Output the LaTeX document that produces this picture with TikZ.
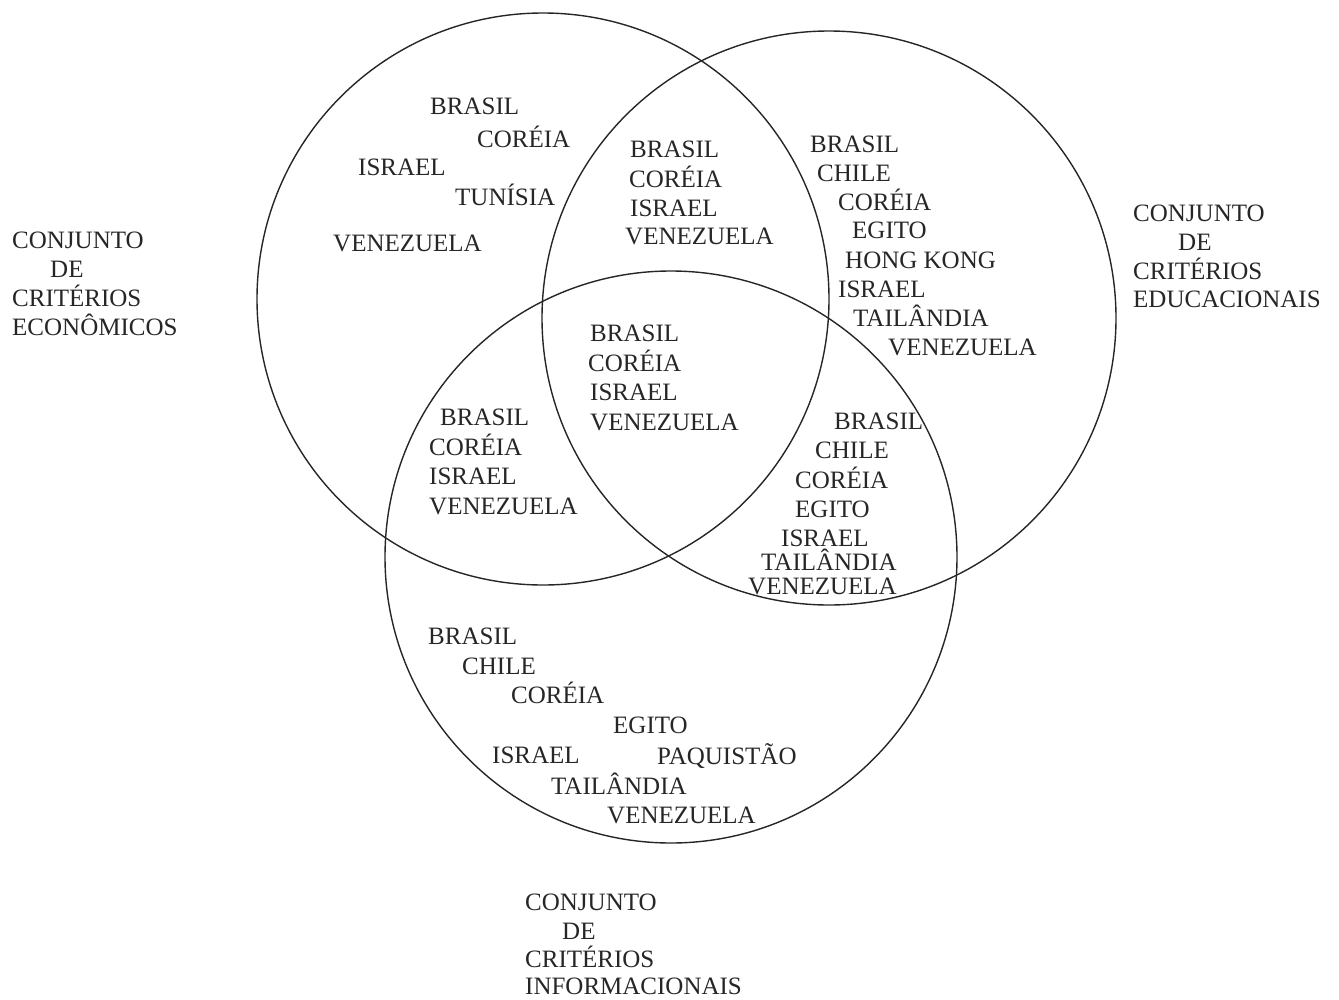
\documentclass[tikz,border=0pt]{standalone}
\usepackage{fontspec}
\setmainfont{Liberation Serif}
\tikzset{
  setcircle/.style={circle, draw=black!85, line width=1.4pt, inner sep=0pt},
  lbl/.style={anchor=base west, inner sep=0pt, text=black!85, font=\fontsize{25}{29}\selectfont},
}
\begin{document}
\begin{tikzpicture}[x=1pt,y=-1pt]
\useasboundingbox (0,0) rectangle (1339,999);
% circles
\node[setcircle, minimum size=572pt] (econ) at (543,299) {};
\node[setcircle, minimum size=574pt] (educ) at (829,318) {};
\node[setcircle, minimum size=572pt] (info) at (671,557) {};
% economic only
\node[lbl] (a1) at (430,114) {BRASIL};
\node[lbl] (a2) at (477,147) {COR\'EIA};
\node[lbl] (a3) at (358,175) {ISRAEL};
\node[lbl] (a4) at (455,205) {TUN\'ISIA};
\node[lbl] (a5) at (333,251) {VENEZUELA};
% economic & educational
\node[lbl] (b1) at (630,157) {BRASIL};
\node[lbl] (b2) at (629,187) {COR\'EIA};
\node[lbl] (b3) at (630,216) {ISRAEL};
\node[lbl] (b4) at (625,244) {VENEZUELA};
% educational only
\node[lbl] (c1) at (810,152) {BRASIL};
\node[lbl] (c2) at (817,181) {CHILE};
\node[lbl] (c3) at (838,210) {COR\'EIA};
\node[lbl] (c4) at (852,238) {EGITO};
\node[lbl] (c5) at (845,268) {HONG KONG};
\node[lbl] (c6) at (838,297) {ISRAEL};
\node[lbl] (c7) at (853,326) {TAIL\^ANDIA};
\node[lbl] (c8) at (888,355) {VENEZUELA};
% all three
\node[lbl] (d1) at (590,341) {BRASIL};
\node[lbl] (d2) at (588,371) {COR\'EIA};
\node[lbl] (d3) at (590,400) {ISRAEL};
\node[lbl] (d4) at (590,430) {VENEZUELA};
% economic & informational
\node[lbl] (e1) at (440,425) {BRASIL};
\node[lbl] (e2) at (429,455) {COR\'EIA};
\node[lbl] (e3) at (429,484) {ISRAEL};
\node[lbl] (e4) at (429,514) {VENEZUELA};
% educational & informational
\node[lbl] (f1) at (834,429) {BRASIL};
\node[lbl] (f2) at (815,458) {CHILE};
\node[lbl] (f3) at (795,488) {COR\'EIA};
\node[lbl] (f4) at (795,517) {EGITO};
\node[lbl] (f5) at (781,546) {ISRAEL};
\node[lbl] (f6) at (761,570) {TAIL\^ANDIA};
\node[lbl] (f7) at (748,594) {VENEZUELA};
% informational only
\node[lbl] (g1) at (428,644) {BRASIL};
\node[lbl] (g2) at (462,674) {CHILE};
\node[lbl] (g3) at (511,703) {COR\'EIA};
\node[lbl] (g4) at (613,733) {EGITO};
\node[lbl] (g5) at (492,763) {ISRAEL};
\node[lbl] (g6) at (657,764) {PAQUIST\~AO};
\node[lbl] (g7) at (551,794) {TAIL\^ANDIA};
\node[lbl] (g8) at (607,823) {VENEZUELA};
% set labels
\node[lbl] (l1) at (12,248) {CONJUNTO};
\node[lbl] (l2) at (50,277) {DE};
\node[lbl] (l3) at (12,306) {CRIT\'ERIOS};
\node[lbl] (l4) at (12,335) {ECON\^OMICOS};
\node[lbl] (r1) at (1133,221) {CONJUNTO};
\node[lbl] (r2) at (1178,250) {DE};
\node[lbl] (r3) at (1133,279) {CRIT\'ERIOS};
\node[lbl] (r4) at (1133,307) {EDUCACIONAIS};
\node[lbl] (m1) at (525,910) {CONJUNTO};
\node[lbl] (m2) at (562,939) {DE};
\node[lbl] (m3) at (525,967) {CRIT\'ERIOS};
\node[lbl] (m4) at (525,994) {INFORMACIONAIS};
\end{tikzpicture}
\end{document}
